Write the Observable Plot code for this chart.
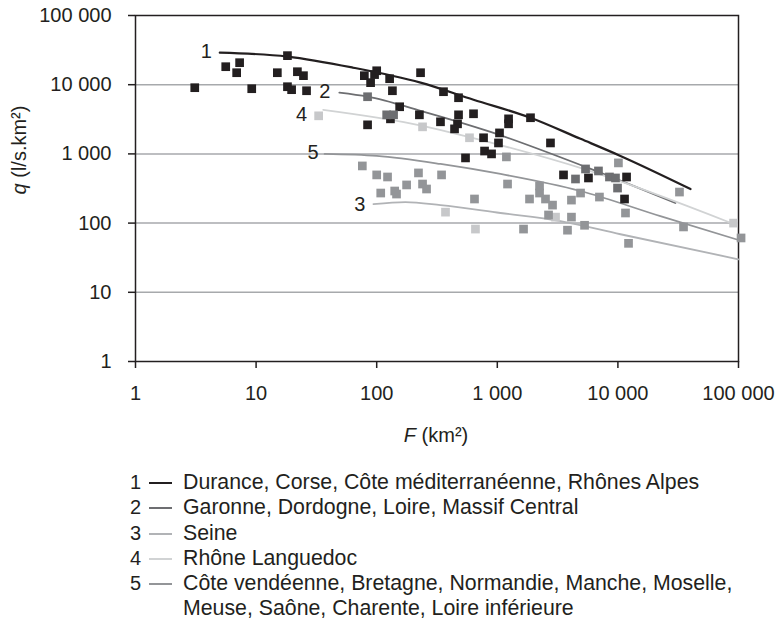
<!DOCTYPE html>
<html><head><meta charset="utf-8">
<script src="https://cdn.jsdelivr.net/npm/d3@7"></script>
<script src="https://cdn.jsdelivr.net/npm/@observablehq/plot@0.6"></script>
<style>
body{margin:0;background:#fff;font-family:"Liberation Sans",Arial,sans-serif;color:#231f20;overflow:hidden}
#chart svg{display:block}
#legend{position:relative;margin-top:20px;font-size:21.3px;line-height:20px}
.row{position:relative;height:25.3px}
.num{position:absolute;left:120px;width:21px;text-align:right;font-size:20px;top:0}
.sw{position:absolute;left:149px;top:10px;width:23px;height:2px}
.txt{position:absolute;left:183px;top:0;white-space:nowrap}
</style></head><body>
<div id="chart"></div><div id="legend"></div>
<script>
// ---- data ----
const xTicks = [1, 10, 100, 1000, 10000, 100000];
const yTicks = [1, 10, 100, 1000, 10000, 100000];
const gridQ = [10, 100, 1000, 10000];

const curveIds = ["1", "2", "3", "4", "5"];
const curveNames = [
  ["Durance, Corse, Côte méditerranéenne, Rhônes Alpes"],
  ["Garonne, Dordogne, Loire, Massif Central"],
  ["Seine"],
  ["Rhône Languedoc"],
  ["Côte vendéenne, Bretagne, Normandie, Manche, Moselle,", "Meuse, Saône, Charente, Loire inférieure"]
];
const curveColors = ["#231f20", "#6d6e71", "#b1b3b6", "#d1d3d4", "#939598"];

const curve1F = [5, 18.2, 64, 231, 635, 1885, 4900, 10500, 40000];
const curve1Q = [29100, 25500, 17600, 10700, 6060, 3330, 1650, 935, 311];
const curve2F = [49, 84, 231, 879, 5390, 30000];
const curve2Q = [7660, 6700, 4200, 2080, 649, 195];
const curve3F = [94, 173, 338, 1063, 3340, 10500, 100000];
const curve3Q = [188, 201, 182, 140, 107, 69, 30];
const curve4F = [36, 240, 577, 5190, 91000];
const curve4Q = [4340, 2550, 1760, 606, 97];
const curve5F = [37, 100, 338, 1063, 4900, 22500, 100000];
const curve5Q = [1000, 935, 716, 513, 291, 126, 57];

const pts1F = [3.1, 5.6, 7.3, 6.9, 9.2, 15, 18.2, 18.2, 19.7, 22, 24.7, 26.2, 79, 100, 96, 89, 128, 135, 231, 358, 155, 84, 130, 226, 338, 477, 635, 477, 468, 442, 1240, 1240, 1885, 1043, 769, 1023, 2760, 784, 896, 545, 3540, 5700, 11800, 11350];
const pts1Q = [9050, 18200, 20800, 14900, 8750, 14900, 26300, 9350, 8470, 15400, 13500, 8180, 13500, 15900, 14000, 10700, 12200, 8180, 14900, 7920, 4800, 2630, 3210, 3670, 2910, 6480, 3800, 3670, 2720, 2300, 3210, 2720, 3330, 2010, 1710, 1440, 1440, 1100, 1000, 875, 497, 449, 464, 223];
const pts2F = [84, 121, 138, 4450, 5390, 6900, 8510, 9550, 9930];
const pts2Q = [6700, 3670, 3670, 434, 606, 567, 464, 449, 321];
const pts3F = [372, 659, 3040];
const pts3Q = [144, 82, 122];
const pts4F = [33, 240, 588, 91000];
const pts4Q = [3550, 2460, 1710, 100];
const pts5F = [76, 100, 123, 222, 345, 177, 240, 259, 108, 141, 146, 647, 1190, 1216, 1650, 1850, 2240, 2240, 2510, 2870, 2660, 4120, 3820, 5290, 4900, 7030, 4120, 10100, 11560, 12250, 32400, 35000, 105000];
const pts5Q = [670, 497, 464, 531, 497, 356, 367, 311, 272, 291, 263, 223, 905, 367, 82, 223, 344, 272, 223, 182, 131, 122, 79, 93, 272, 238, 215, 741, 140, 51, 281, 88, 61];

// ---- build ----
const rows = (F, Q) => F.map((f, i) => ({F: f, Q: Q[i]}));
const curves = [[curve1F, curve1Q], [curve2F, curve2Q], [curve3F, curve3Q], [curve4F, curve4Q], [curve5F, curve5Q]].map(([F, Q]) => rows(F, Q));
const ptsColors = ["#231f20", "#6d6e71", "#c7c8ca", "#c7c8ca", "#939598"];
const pts = [[pts1F, pts1Q], [pts2F, pts2Q], [pts3F, pts3Q], [pts4F, pts4Q], [pts5F, pts5Q]].map(([F, Q]) => rows(F, Q));
const fmt = d => d3.format(",")(d).replace(/,/g, " ");
const labelDx = [-8, -9, -8, -16, -6];
const labelDy = [-1, -1, 0, 5, -1];

const H = 452;
const marks = [
  Plot.ruleY(gridQ, {stroke: "#a7a9ac", strokeWidth: 1.5}),
  Plot.axisX({ticks: xTicks, tickFormat: fmt, tickSize: 7, tickPadding: 17, label: null, strokeWidth: 1.5}),
  Plot.axisY({ticks: yTicks, tickFormat: fmt, tickSize: 7, tickPadding: 17, label: null, strokeWidth: 1.5}),
  Plot.frame({stroke: "#231f20", strokeWidth: 1.5})
];
curves.forEach((c, i) => {
  marks.push(Plot.line(c, {x: "F", y: "Q", stroke: curveColors[i], strokeWidth: i === 0 ? 2.2 : 1.8, curve: "monotone-x"}));
});
pts.forEach((p, i) => {
  marks.push(Plot.dot(p, {x: "F", y: "Q", symbol: "square", r: 4.9, fill: ptsColors[i], stroke: "none"}));
});
curves.forEach((c, i) => {
  marks.push(Plot.text([c[0]], {x: "F", y: "Q", text: () => curveIds[i], textAnchor: "end", dx: labelDx[i], dy: labelDy[i], fill: "#231f20", fontSize: 20}));
});

const plot = Plot.plot({
  width: 778, height: H,
  marginLeft: 135, marginRight: 40, marginTop: 15, marginBottom: H - 361,
  x: {type: "log", domain: [1, 100000]},
  y: {type: "log", domain: [1, 100000]},
  style: {fontFamily: "Liberation Sans, Arial, sans-serif", fontSize: "20px", color: "#231f20", background: "#fff"},
  marks
});
document.getElementById("chart").appendChild(plot);

const svg = d3.select(plot);
const xt = svg.append("text").attr("x", 436).attr("y", 442).attr("text-anchor", "middle").attr("fill", "#231f20").style("font-size", "20px");
xt.append("tspan").attr("font-style", "italic").text("F");
xt.append("tspan").text(" (km²)");
const yt = svg.append("text").attr("transform", "translate(26,150) rotate(-90)").attr("text-anchor", "middle").attr("fill", "#231f20").style("font-size", "20px");
yt.append("tspan").attr("font-style", "italic").text("q");
yt.append("tspan").text(" (l/s.km²)");

// legend
const lg = d3.select("#legend");
curveIds.forEach((id, i) => {
  curveNames[i].forEach((line, j) => {
    const r = lg.append("div").attr("class", "row");
    if (j === 0) {
      r.append("span").attr("class", "num").text(id);
      r.append("span").attr("class", "sw").style("background", curveColors[i]);
    }
    r.append("span").attr("class", "txt").text(line);
  });
});
</script>
</body></html>
